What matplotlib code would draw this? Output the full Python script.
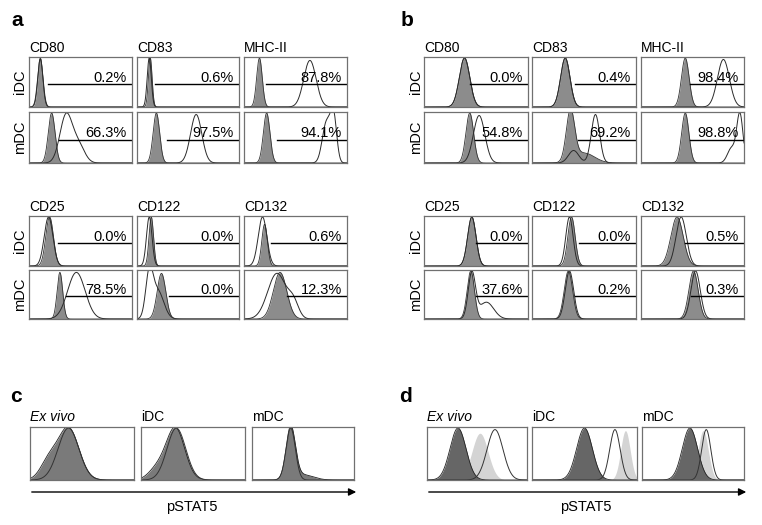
import matplotlib
matplotlib.use('Agg')
import matplotlib.pyplot as plt
import numpy as np

plt.rcParams['font.family'] = ['Liberation Sans', 'DejaVu Sans']

W, H = 762, 525

# marker order: CD80, CD83, MHC-II, CD25, CD122, CD132
markers = ['CD80', 'CD83', 'MHC-II', 'CD25', 'CD122', 'CD132']

a_idc_pct = ['0.2%', '0.6%', '87.8%', '0.0%', '0.0%', '0.6%']
a_mdc_pct = ['66.3%', '97.5%', '94.1%', '78.5%', '0.0%', '12.3%']
b_idc_pct = ['0.0%', '0.4%', '98.4%', '0.0%', '0.0%', '0.5%']
b_mdc_pct = ['54.8%', '69.2%', '98.8%', '37.6%', '0.2%', '0.3%']

# gate start (fraction of the box width)
a_idc_gate = [0.18, 0.18, 0.21, 0.28, 0.19, 0.26]
a_mdc_gate = [0.29, 0.29, 0.32, 0.36, 0.31, 0.42]
b_idc_gate = [0.44, 0.41, 0.48, 0.50, 0.45, 0.43]
b_mdc_gate = [0.49, 0.44, 0.48, 0.50, 0.41, 0.49]

# histogram peaks: (centre, width, height)
a_idc_shaded = [[(0.11, 0.024, 1)], [(0.13, 0.018, 1)], [(0.15, 0.027, 1)],
                [(0.20, 0.037, 1)], [(0.14, 0.022, 1)], [(0.20, 0.027, 0.85)]]
a_idc_open = [[(0.11, 0.026, 0.98)], [(0.12, 0.02, 1.0)], [(0.64, 0.06, 0.95)],
              [(0.19, 0.042, 1)], [(0.12, 0.027, 1.0)], [(0.18, 0.042, 1.0)]]
a_mdc_shaded = [[(0.22, 0.033, 1)], [(0.19, 0.032, 1)], [(0.22, 0.032, 1)],
                [(0.30, 0.027, 0.97)], [(0.24, 0.042, 0.95)], [(0.35, 0.065, 0.97)]]
a_mdc_open = [[(0.36, 0.06, 0.95), (0.48, 0.06, 0.35)], [(0.58, 0.055, 0.97)],
              [(0.80, 0.04, 0.8), (0.87, 0.03, 0.9)], [(0.46, 0.085, 0.97)],
              [(0.12, 0.035, 0.85), (0.20, 0.06, 0.6)], [(0.32, 0.09, 0.95), (0.48, 0.05, 0.3)]]

b_idc_shaded = [[(0.39, 0.05, 1)], [(0.32, 0.045, 1)], [(0.43, 0.037, 1)],
                [(0.46, 0.04, 1)], [(0.38, 0.035, 1)], [(0.35, 0.06, 1)]]
b_idc_open = [[(0.39, 0.05, 1)], [(0.32, 0.045, 1)], [(0.80, 0.058, 0.97)],
              [(0.46, 0.04, 1)], [(0.36, 0.035, 1)], [(0.39, 0.05, 1)]]
b_mdc_shaded = [[(0.44, 0.037, 1)], [(0.37, 0.04, 1), (0.50, 0.1, 0.2)], [(0.43, 0.035, 1)],
                [(0.45, 0.035, 1)], [(0.35, 0.04, 1)], [(0.51, 0.045, 1)]]
b_mdc_open = [[(0.53, 0.055, 0.95)], [(0.61, 0.04, 0.97), (0.40, 0.05, 0.25)],
              [(0.96, 0.03, 0.97), (0.88, 0.04, 0.3)], [(0.46, 0.035, 0.95), (0.60, 0.07, 0.35)],
              [(0.36, 0.04, 1)], [(0.53, 0.045, 1)]]

# pSTAT5 panels: Ex vivo, iDC, mDC
stat_titles = ['Ex vivo', 'iDC', 'mDC']
c_dark = [[(0.37, 0.10, 1), (0.18, 0.08, 0.35)], [(0.33, 0.09, 1), (0.15, 0.08, 0.2)],
          [(0.38, 0.045, 1), (0.50, 0.1, 0.1)]]
c_light = [[(0.37, 0.10, 0.95)], [(0.31, 0.09, 0.95)], [(0.38, 0.045, 0.95)]]
c_open = [[(0.37, 0.10, 1)], [(0.34, 0.09, 1)], [(0.38, 0.045, 1)]]
d_dark = [[(0.31, 0.08, 1)], [(0.50, 0.075, 1)], [(0.47, 0.075, 1)]]
d_light = [[(0.53, 0.08, 0.9)], [(0.89, 0.045, 0.95)], [(0.60, 0.05, 0.95)]]
d_open = [[(0.68, 0.08, 0.97)], [(0.79, 0.05, 0.97)], [(0.63, 0.045, 0.97)]]

xs = np.linspace(0, 1, 400)


def curve(peaks):
    y = np.zeros_like(xs)
    for c, s, h in peaks:
        y = y + h * np.exp(-0.5 * ((xs - c) / s) ** 2)
    return y


def box(x0, x1, y0, y1):
    ax = fig.add_axes([x0 / W, 1 - y1 / H, (x1 - x0) / W, (y1 - y0) / H])
    ax.set_xlim(0, 1)
    ax.set_ylim(0, 1.02)
    ax.set_xticks([])
    ax.set_yticks([])
    for s in ax.spines.values():
        s.set_color('#707070')
        s.set_linewidth(0.9)
    return ax


def flow_box(ax, shaded, opened, gate, pct):
    ax.fill_between(xs, curve(shaded), color='#8c8c8c', lw=0)
    ax.plot(xs, curve(shaded), color='#333333', lw=0.6)
    ax.plot(xs, curve(opened), color='#2a2a2a', lw=0.7)
    ax.plot([gate, 1], [0.47, 0.47], color='black', lw=1)
    ax.text(0.95, 0.6, pct, ha='right', va='center', fontsize=10.5)


fig = plt.figure(figsize=(W / 100, H / 100), dpi=100)
ov = fig.add_axes([0, 0, 1, 1])
ov.set_xlim(0, W)
ov.set_ylim(H, 0)
ov.axis('off')

cols = {'a': [(29, 132), (137, 239), (244, 347)], 'b': [(424, 528), (532, 636), (641, 744)]}
groups = [((57, 107), (112, 163), 48), ((216, 266), (270, 319), 207)]
label_x = {'a': 20, 'b': 416}
data = {'a': (a_idc_shaded, a_idc_open, a_idc_gate, a_idc_pct,
              a_mdc_shaded, a_mdc_open, a_mdc_gate, a_mdc_pct),
        'b': (b_idc_shaded, b_idc_open, b_idc_gate, b_idc_pct,
              b_mdc_shaded, b_mdc_open, b_mdc_gate, b_mdc_pct)}

for p in ['a', 'b']:
    ish, iop, igt, ipc, msh, mop, mgt, mpc = data[p]
    for g, (ry1, ry2, ty) in enumerate(groups):
        ov.text(label_x[p], (ry1[0] + ry1[1]) / 2, 'iDC', rotation=90, ha='center', va='center', fontsize=10.5)
        ov.text(label_x[p], (ry2[0] + ry2[1]) / 2, 'mDC', rotation=90, ha='center', va='center', fontsize=10.5)
        for j, (x0, x1) in enumerate(cols[p]):
            k = g * 3 + j
            ov.text(x0, ty, markers[k], ha='left', va='center', fontsize=10)
            flow_box(box(x0, x1, *ry1), ish[k], iop[k], igt[k], ipc[k])
            flow_box(box(x0, x1, *ry2), msh[k], mop[k], mgt[k], mpc[k])

# pSTAT5 panels
stat_cols = {'c': [(30, 134), (141, 245), (252, 354)], 'd': [(427, 527), (532, 637), (642, 744)]}
for p, dark_c, light_c, open_c, dk, lt in [('c', c_dark, c_light, c_open, '#7a7a7a', '#c8c8c8'),
                                          ('d', d_dark, d_light, d_open, '#666666', '#d4d4d4')]:
    for j, (x0, x1) in enumerate(stat_cols[p]):
        ax = box(x0, x1, 427, 480)
        ax.fill_between(xs, curve(light_c[j]), color=lt, lw=0)
        ax.fill_between(xs, curve(dark_c[j]), color=dk, lw=0)
        ax.plot(xs, curve(dark_c[j]), color='#222222', lw=0.6)
        ax.plot(xs, curve(open_c[j]), color='#333333', lw=0.7)
        ov.text(x0, 417, stat_titles[j], ha='left', va='center', fontsize=10,
                style='italic' if j == 0 else 'normal')
    ax0 = stat_cols[p][0][0]
    ax1 = stat_cols[p][-1][1]
    ov.annotate('', xy=(ax1 + 5, 492), xytext=(ax0 - 1, 492),
                arrowprops=dict(arrowstyle='-|>', color='black', lw=1, mutation_scale=11))
    ov.text((ax0 + ax1) / 2, 507, 'pSTAT5', ha='center', va='center', fontsize=10.5)

for lab, x, y in [('a', 17, 20), ('b', 407, 20), ('c', 16, 397), ('d', 406, 397)]:
    ov.text(x, y, lab, ha='center', va='center', fontsize=15, fontweight='bold')

fig.savefig('out.png', dpi=100)
